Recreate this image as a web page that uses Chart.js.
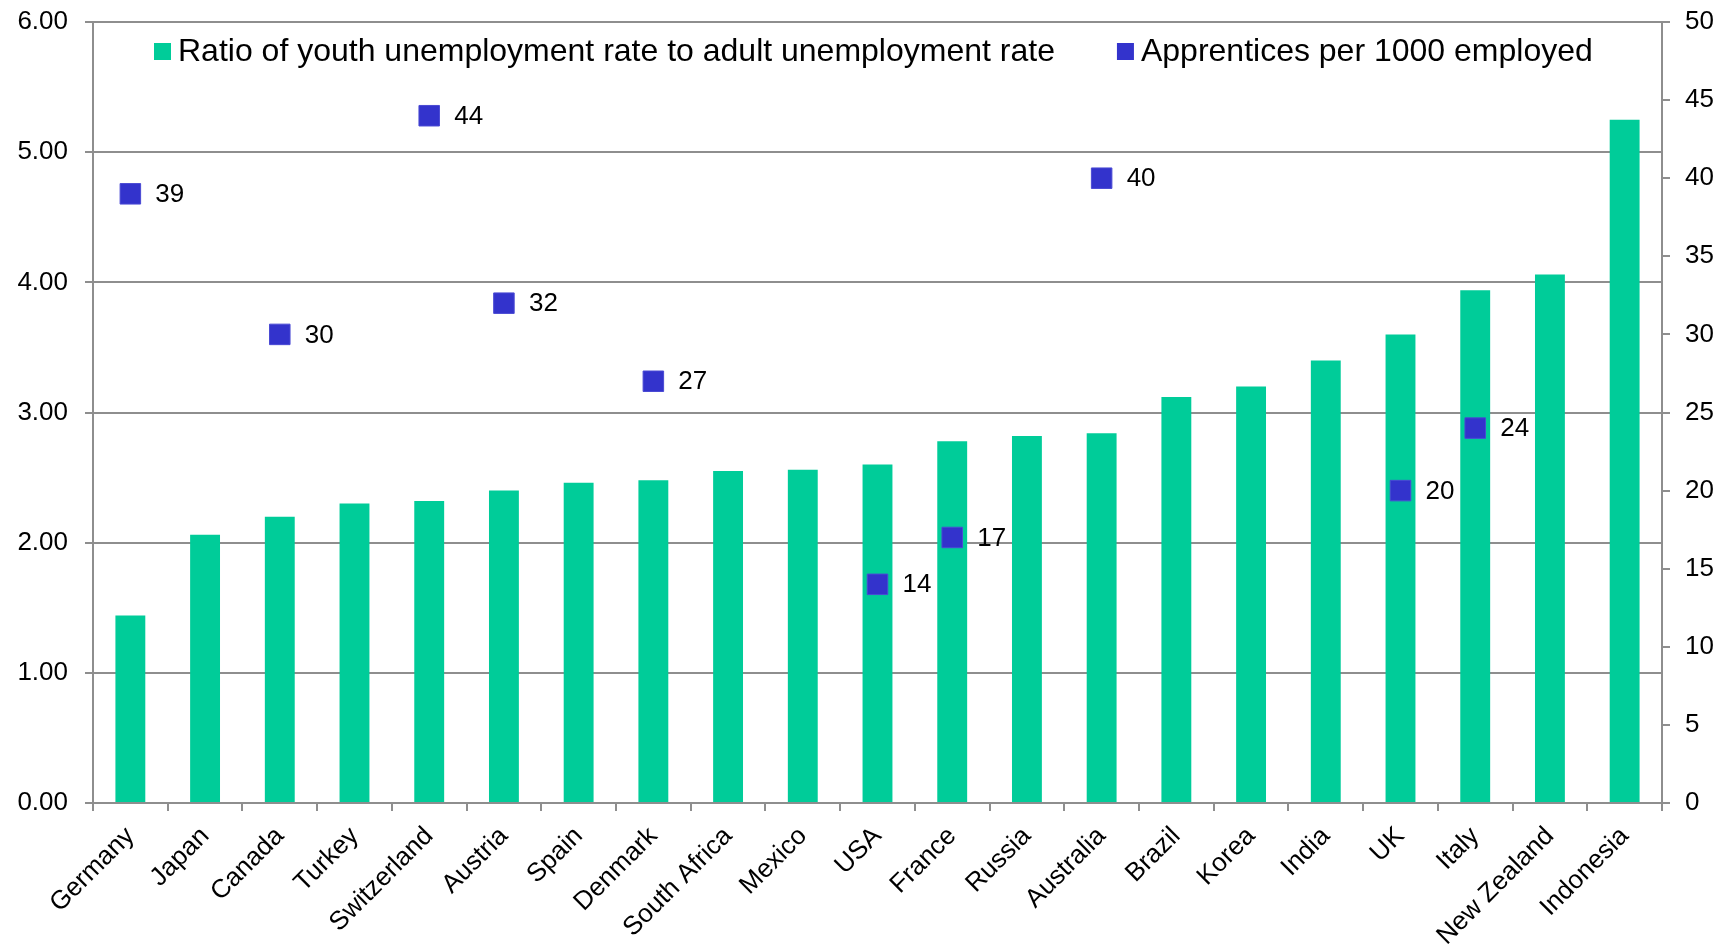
<!DOCTYPE html>
<html>
<head>
<meta charset="utf-8">
<script src="https://cdn.jsdelivr.net/npm/chart.js@4.4.0/dist/chart.umd.min.js"></script>
<style>
html,body{margin:0;padding:0;background:#ffffff;}
canvas{display:block;}
</style>
</head>
<body>
<canvas id="c" width="1724" height="950"></canvas>
<script>
const categories = ["Germany","Japan","Canada","Turkey","Switzerland","Austria","Spain","Denmark","South Africa","Mexico","USA","France","Russia","Australia","Brazil","Korea","India","UK","Italy","New Zealand","Indonesia"];
const ratioValues = [1.44,2.06,2.20,2.30,2.32,2.40,2.46,2.48,2.55,2.56,2.60,2.78,2.82,2.84,3.12,3.20,3.40,3.60,3.94,4.06,5.25];
const apprenticeValues = [39,null,30,null,44,32,null,27,null,null,14,17,null,40,null,null,null,20,24,null,null];
const seriesNames = ["Ratio of youth unemployment rate to adult unemployment rate","Apprentices per 1000 employed"];
const leftAxis = {min:0, max:6, step:1, decimals:2};
const rightAxis = {min:0, max:50, step:5};

const FONT = '"Liberation Sans", Arial, Helvetica, sans-serif';
const GRID = '#8e8e8e';
const BAR = '#00cc99';
const MARK = '#3333cc';

Chart.defaults.font.family = FONT;
Chart.defaults.color = '#000';

const legendPlugin = {
  id: 'customLegend',
  afterDraw(chart) {
    const ctx = chart.ctx;
    ctx.save();
    ctx.font = '32px ' + FONT;
    ctx.textBaseline = 'middle';
    ctx.textAlign = 'left';
    const colors = [BAR, MARK];
    let x = 154;
    const cy = 51.5;
    seriesNames.forEach((name, i) => {
      ctx.fillStyle = colors[i];
      ctx.fillRect(x, cy - 8.5, 17, 17);
      ctx.fillStyle = '#000';
      ctx.fillText(name, x + 24, cy + 1);
      x += 24 + ctx.measureText(name).width + 62;
    });
    ctx.restore();
  }
};

const labelPlugin = {
  id: 'pointLabels',
  afterDatasetsDraw(chart) {
    const ctx = chart.ctx;
    const meta = chart.getDatasetMeta(1);
    ctx.save();
    ctx.font = '26px ' + FONT;
    ctx.fillStyle = '#000';
    ctx.textBaseline = 'middle';
    ctx.textAlign = 'left';
    meta.data.forEach((pt, i) => {
      const v = apprenticeValues[i];
      if (v === null || v === undefined) return;
      ctx.fillText(String(v), pt.x + 25, pt.y + 1);
    });
    ctx.restore();
  }
};

new Chart(document.getElementById('c'), {
  type: 'bar',
  data: {
    labels: categories,
    datasets: [
      {
        type: 'bar',
        label: seriesNames[0],
        data: ratioValues,
        backgroundColor: BAR,
        borderWidth: 0,
        barPercentage: 0.4,
        categoryPercentage: 1.0,
        yAxisID: 'y',
        order: 1
      },
      {
        type: 'line',
        label: seriesNames[1],
        data: apprenticeValues,
        showLine: false,
        pointStyle: 'rect',
        pointRadius: 14.5,
        pointHoverRadius: 14.5,
        pointBackgroundColor: MARK,
        pointBorderColor: '#4a4ad4',
        pointBorderWidth: 1,
        yAxisID: 'y1',
        order: 0
      }
    ]
  },
  options: {
    responsive: false,
    devicePixelRatio: 1,
    animation: false,
    layout: { padding: { top: 22, left: 0, right: 0, bottom: 0 } },
    plugins: {
      legend: { display: false },
      tooltip: { enabled: false }
    },
    scales: {
      x: {
        type: 'category',
        offset: true,
        grid: { display: true, offset: true, drawOnChartArea: false, drawTicks: true, tickLength: 8, color: GRID, lineWidth: 2 },
        border: { display: true, color: GRID, width: 2 },
        ticks: { font: { size: 26 }, color: '#000', minRotation: 45, maxRotation: 45, autoSkip: false, padding: 10 },
        afterFit(s) { s.height = 147; s.paddingLeft = 0; s.paddingRight = 0; }
      },
      y: {
        position: 'left',
        min: leftAxis.min, max: leftAxis.max,
        grid: { color: GRID, lineWidth: 2, tickLength: 8, drawTicks: true },
        border: { display: true, color: GRID, width: 2 },
        ticks: { stepSize: leftAxis.step, font: { size: 26 }, color: '#000', padding: 17,
          callback: v => Number(v).toFixed(leftAxis.decimals) },
        afterFit(s) { s.width = 93; s.paddingTop = 0; s.paddingBottom = 0; }
      },
      y1: {
        position: 'right',
        min: rightAxis.min, max: rightAxis.max,
        grid: { drawOnChartArea: false, color: GRID, lineWidth: 2, tickLength: 8, drawTicks: true },
        border: { display: true, color: GRID, width: 2 },
        ticks: { stepSize: rightAxis.step, font: { size: 26 }, color: '#000', padding: 15 },
        afterFit(s) { s.width = 62; s.paddingTop = 0; s.paddingBottom = 0; }
      }
    }
  },
  plugins: [legendPlugin, labelPlugin]
});
</script>
</body>
</html>
